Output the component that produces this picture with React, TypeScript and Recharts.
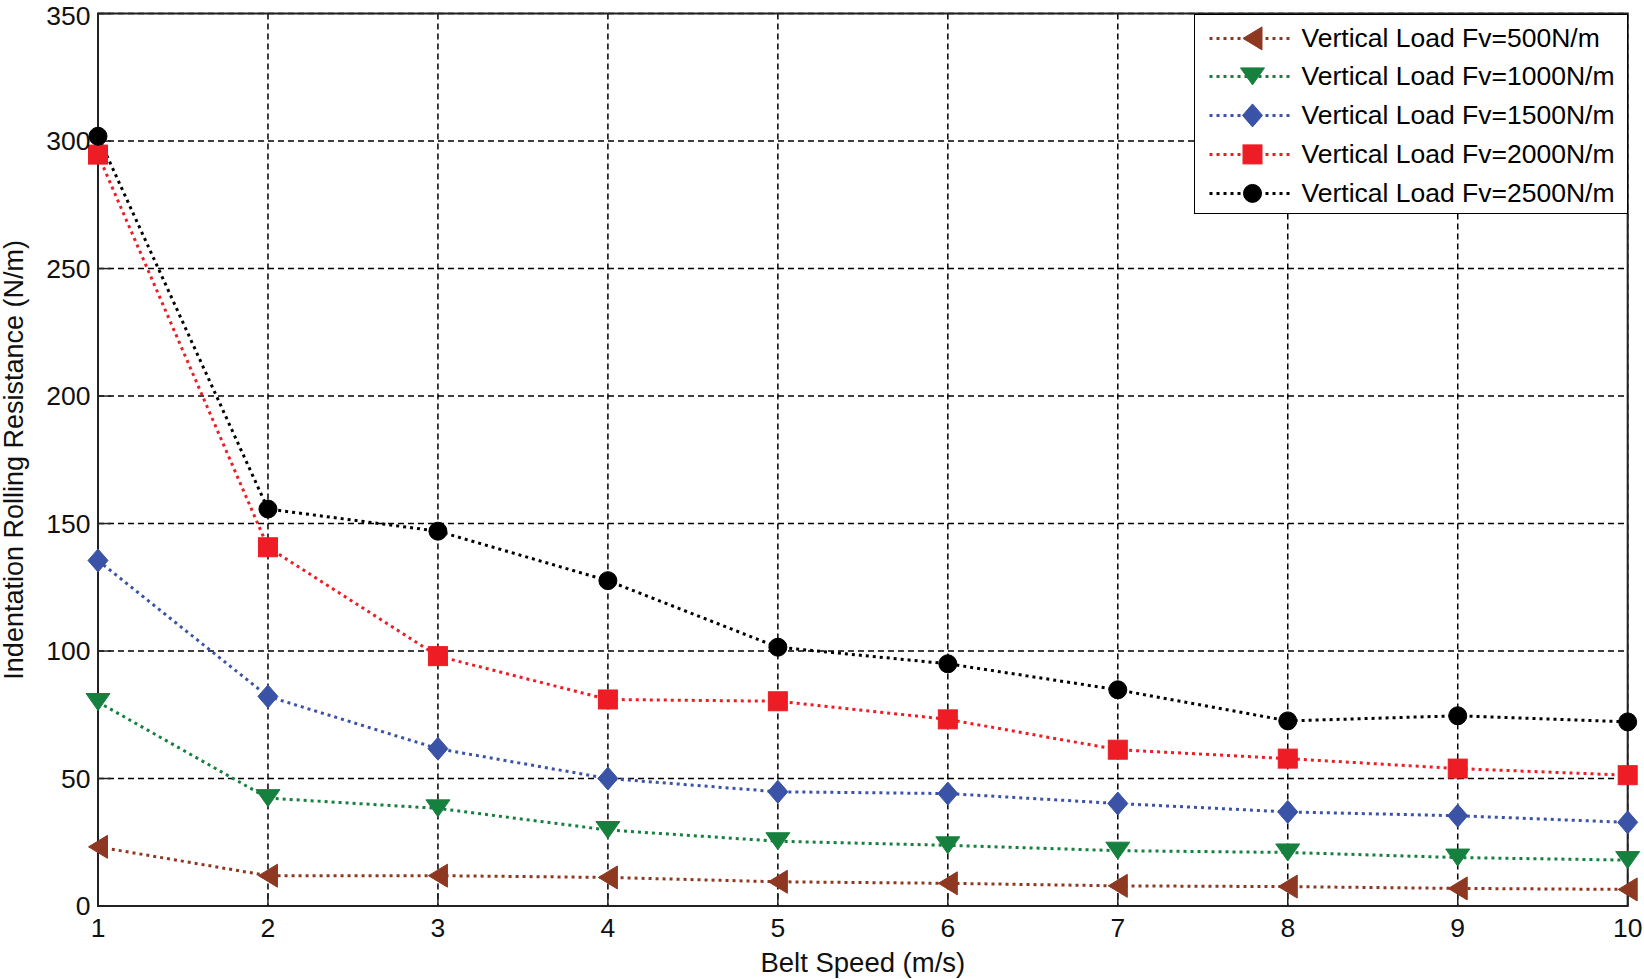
import React from 'react';
import { LineChart, Line, XAxis, YAxis, CartesianGrid, Legend, ReferenceArea } from 'recharts';

const FONT = '"Liberation Sans", Arial, sans-serif';

const beltSpeed = [1, 2, 3, 4, 5, 6, 7, 8, 9, 10];
const load500 = [23.2, 11.9, 11.9, 11.2, 9.5, 8.9, 7.9, 7.6, 6.9, 6.5];
const load1000 = [80, 42.3, 38.3, 29.8, 25.4, 23.8, 21.7, 21, 19, 18];
const load1500 = [135.5, 82.2, 61.7, 50, 44.8, 44.1, 40.2, 36.9, 35.4, 32.8];
const load2000 = [294.7, 140.7, 98, 81, 80.3, 73.2, 61.3, 57.8, 53.9, 51.3];
const load2500 = [301.9, 155.7, 147, 127.6, 101.5, 95, 84.8, 72.6, 74.6, 72.2];

const xTicks = [1, 2, 3, 4, 5, 6, 7, 8, 9, 10];
const yTicks = [0, 50, 100, 150, 200, 250, 300, 350];

const seriesNames = [
  'Vertical Load Fv=500N/m',
  'Vertical Load Fv=1000N/m',
  'Vertical Load Fv=1500N/m',
  'Vertical Load Fv=2000N/m',
  'Vertical Load Fv=2500N/m',
];
const seriesKeys = ['f500', 'f1000', 'f1500', 'f2000', 'f2500'];
const seriesColors = ['#8e3822', '#16803e', '#3a53a6', '#ee1c25', '#000000'];
const seriesShapes = ['left', 'down', 'diamond', 'square', 'circle'];

const data = beltSpeed.map((s, i) => ({
  speed: s,
  f500: load500[i],
  f1000: load1000[i],
  f1500: load1500[i],
  f2000: load2000[i],
  f2500: load2500[i],
}));

function markerShape(shape: string, cx: number, cy: number, color: string, key?: any) {
  const common = { fill: color, stroke: color, strokeWidth: 1 };
  switch (shape) {
    case 'left':
      return (
        <polygon key={key} {...common}
          points={`${cx - 9.5},${cy} ${cx + 9.5},${cy - 11.5} ${cx + 9.5},${cy + 11.5}`} />
      );
    case 'down':
      return (
        <polygon key={key} {...common}
          points={`${cx - 12},${cy - 8.5} ${cx + 12},${cy - 8.5} ${cx},${cy + 8.5}`} />
      );
    case 'diamond':
      return (
        <polygon key={key} {...common}
          points={`${cx},${cy - 11.5} ${cx + 10},${cy} ${cx},${cy + 11.5} ${cx - 10},${cy}`} />
      );
    case 'square':
      return <rect key={key} {...common} x={cx - 9.5} y={cy - 9.5} width={19} height={19} />;
    default:
      return <circle key={key} {...common} cx={cx} cy={cy} r={9} />;
  }
}

const makeDot = (shape: string, color: string) => (props: any) => {
  const { cx, cy, index } = props;
  if (cx == null || cy == null) return <g key={`e-${index}`} />;
  return markerShape(shape, cx, cy, color, `${shape}-${index}`);
};

const LegendBox = () => (
  <div
    style={{
      boxSizing: 'border-box',
      width: 434,
      height: 200,
      border: '1.5px solid #000',
      background: '#fff',
      paddingTop: 4,
      fontFamily: FONT,
    }}
  >
    {seriesNames.map((name, i) => (
      <div key={name} style={{ display: 'flex', alignItems: 'center', height: 38.75 }}>
        <svg width={106.5} height={38.75} style={{ flex: 'none', display: 'block' }}>
          <line x1={14.5} x2={94.5} y1={19.4} y2={19.4} stroke={seriesColors[i]} strokeWidth={3} strokeDasharray="3 4" />
          {markerShape(seriesShapes[i], 57.5, 19.4, seriesColors[i])}
        </svg>
        <span style={{ fontSize: 26.5, color: '#000', whiteSpace: 'nowrap', lineHeight: 1 }}>{name}</span>
      </div>
    ))}
  </div>
);

const YLabel = (props: any) => {
  const vb = props.viewBox || { x: 0, y: 0, width: 98, height: 892 };
  const cx = vb.x + 13.5;
  const cy = vb.y + vb.height / 2;
  return (
    <text
      x={cx}
      y={cy}
      transform={`rotate(-90, ${cx}, ${cy})`}
      textAnchor="middle"
      dy="0.355em"
      fontSize={27}
      fontFamily={FONT}
      fill="#111"
    >
      Indentation Rolling Resistance (N/m)
    </text>
  );
};

export default function App() {
  return (
    <div style={{ width: 1644, height: 979, background: '#fff', fontFamily: FONT, overflow: 'hidden' }}>
      <style>{'html,body{margin:0;padding:0;overflow:hidden;background:#fff;}'}</style>
      <LineChart
        width={1644}
        height={979}
        data={data}
        margin={{ top: 13.6, right: 16.3, left: 0, bottom: 0 }}
      >
        <CartesianGrid stroke="#000" strokeWidth={1.5} strokeDasharray="6 4" />
        <XAxis
          dataKey="speed"
          type="number"
          domain={[1, 10]}
          ticks={xTicks}
          height={73}
          axisLine={{ stroke: '#222', strokeWidth: 2 }}
          tickLine={{ stroke: '#222', strokeWidth: 1.5 }}
          tickSize={-13}
          tickMargin={25}
          tick={{ fontSize: 26.5, fill: '#111', fontFamily: FONT }}
          label={{
            value: 'Belt Speed (m/s)',
            position: 'insideBottom',
            offset: 7.5,
            fontSize: 27.5,
            fill: '#111',
            fontFamily: FONT,
          }}
        />
        <YAxis
          type="number"
          domain={[0, 350]}
          ticks={yTicks}
          width={98}
          axisLine={{ stroke: '#222', strokeWidth: 2 }}
          tickLine={{ stroke: '#222', strokeWidth: 1.5 }}
          tickSize={-13}
          tickMargin={20.5}
          tick={{ fontSize: 26.5, fill: '#111', fontFamily: FONT }}
          label={{ content: (p: any) => <YLabel {...p} /> }}
        />
        <ReferenceArea x1={1} x2={10} y1={0} y2={350} fill="none" fillOpacity={0} stroke="#222" strokeWidth={2} />
        {seriesKeys.map((k, i) => (
          <Line
            key={k}
            dataKey={k}
            name={seriesNames[i]}
            type="linear"
            stroke={seriesColors[i]}
            strokeWidth={3}
            strokeDasharray="3 4"
            dot={makeDot(seriesShapes[i], seriesColors[i])}
            activeDot={false}
            isAnimationActive={false}
          />
        ))}
        <Legend
          layout="vertical"
          align="center"
          verticalAlign="middle"
          content={() => <LegendBox />}
          wrapperStyle={{ left: 1194, top: 13.6, width: 434, height: 200 }}
        />
      </LineChart>
    </div>
  );
}
